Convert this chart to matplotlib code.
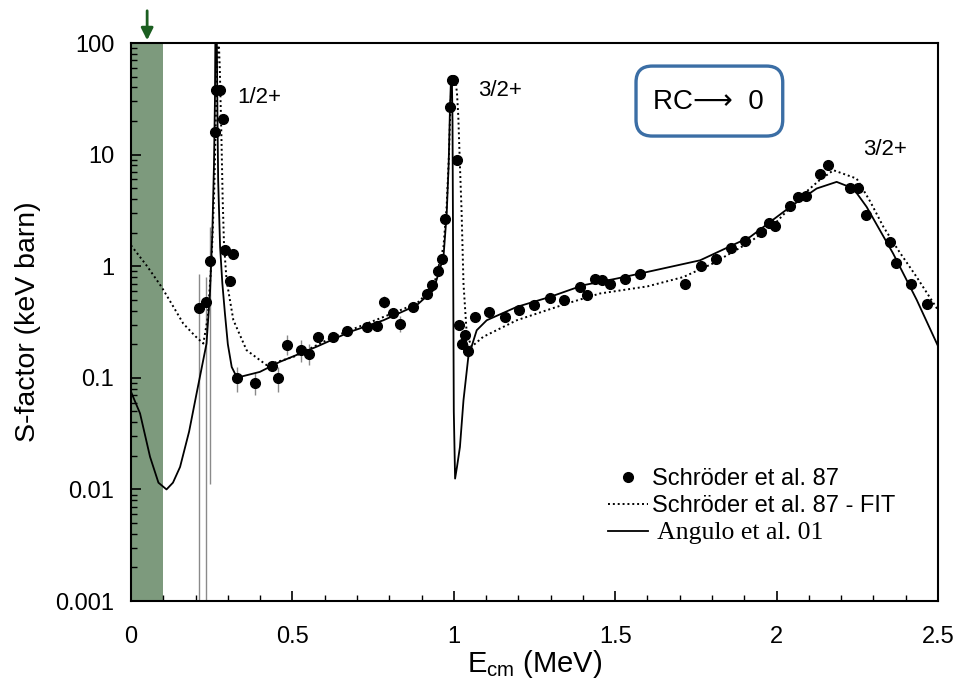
import numpy as np
import matplotlib
matplotlib.use('Agg')
import matplotlib.pyplot as plt
from matplotlib.patches import FancyBboxPatch

plt.rcParams['font.family'] = ['Liberation Sans', 'DejaVu Sans']
plt.rcParams['mathtext.fontset'] = 'custom'
plt.rcParams['mathtext.rm'] = 'Liberation Sans'
plt.rcParams['mathtext.it'] = 'Liberation Sans'

#--------------------------------------------
# Schroeder et al. 87 data points (E in MeV, S in keV barn)
data_E = [0.211, 0.232, 0.245, 0.260, 0.263, 0.276, 0.284, 0.291, 0.317, 0.307,
          0.327, 0.385, 0.436, 0.454, 0.484, 0.527, 0.551, 0.580, 0.627, 0.668,
          0.730, 0.761, 0.785, 0.811, 0.833, 0.873, 0.916, 0.933, 0.952, 0.963,
          0.973, 0.988, 0.993, 0.998, 1.011, 1.017, 1.024, 1.035, 1.043, 1.066,
          1.110, 1.159, 1.203, 1.249, 1.298, 1.341, 1.391, 1.414, 1.437, 1.458,
          1.484, 1.530, 1.577, 1.716, 1.765, 1.812, 1.859, 1.902, 1.951, 1.976,
          1.995, 2.042, 2.067, 2.090, 2.134, 2.160, 2.227, 2.253, 2.277, 2.351,
          2.369, 2.416, 2.467]
data_S = [0.42, 0.48, 1.11, 16.0, 38.0, 38.0, 21.0, 1.41, 1.28, 0.74,
          0.100, 0.089, 0.127, 0.100, 0.197, 0.177, 0.165, 0.233, 0.233, 0.262,
          0.286, 0.294, 0.48, 0.38, 0.306, 0.43, 0.56, 0.68, 0.90, 1.17,
          2.67, 26.8, 47.0, 47.0, 8.9, 0.296, 0.203, 0.241, 0.174, 0.351,
          0.385, 0.351, 0.404, 0.447, 0.514, 0.496, 0.653, 0.55, 0.776, 0.75,
          0.686, 0.776, 0.848, 0.70, 1.00, 1.16, 1.47, 1.69, 2.03, 2.46,
          2.30, 3.47, 4.13, 4.27, 6.77, 8.04, 5.07, 5.07, 2.86, 1.65,
          1.07, 0.69, 0.457]

# error bars that are visible (low, high)
err_E = [0.211, 0.232, 0.245, 0.327, 0.385, 0.454, 0.484, 0.527, 0.551, 0.785, 0.833, 1.043]
err_lo = [0.0009, 0.0009, 0.0113, 0.075, 0.070, 0.075, 0.16, 0.14, 0.13, 0.42, 0.26, 0.15]
err_hi = [0.86, 0.80, 2.25, 0.125, 0.11, 0.125, 0.24, 0.22, 0.20, 0.54, 0.36, 0.20]

# Schroeder et al. 87 - FIT (dotted)
fit_E = [0.0, 0.05, 0.095, 0.13, 0.162, 0.20, 0.224, 0.238, 0.25, 0.258, 0.264,
         0.270, 0.275, 0.280, 0.284, 0.288, 0.296, 0.317, 0.358, 0.42, 0.503,
         0.627, 0.782, 0.885, 0.937, 0.968, 0.978, 0.985, 0.990, 0.995, 1.005,
         1.010, 1.014, 1.019, 1.024, 1.030, 1.040, 1.055, 1.091, 1.195, 1.350,
         1.453, 1.600, 1.711, 1.800, 1.918, 2.000, 2.073, 2.130, 2.176, 2.248,
         2.290, 2.331, 2.380, 2.434, 2.501]
fit_S = [1.54, 1.0, 0.65, 0.44, 0.306, 0.235, 0.203, 0.35, 1.2, 5.0, 30.0,
         150.0, 60.0, 15.0, 4.0, 1.6, 0.75, 0.33, 0.177, 0.13, 0.154,
         0.233, 0.351, 0.463, 0.65, 1.49, 3.5, 10.0, 30.0, 50.0, 48.0,
         35.0, 21.8, 8.0, 3.17, 0.70, 0.25, 0.19, 0.233, 0.328, 0.463,
         0.57, 0.66, 0.80, 1.05, 1.65, 2.5, 4.17, 5.8, 7.25, 6.1,
         3.8, 2.25, 1.35, 0.80, 0.40]

# Angulo et al. 01 (solid)
ang_E = [0.0, 0.028, 0.059, 0.085, 0.11, 0.13, 0.152, 0.18, 0.203, 0.234, 0.245,
         0.252, 0.257, 0.260, 0.262, 0.265, 0.268, 0.270, 0.276, 0.283, 0.291,
         0.300, 0.312, 0.325, 0.338, 0.399, 0.461, 0.575, 0.678, 0.782, 0.885,
         0.937, 0.968, 0.978, 0.984, 0.988, 0.991, 0.994, 0.996, 0.998, 1.000,
         1.004, 1.010, 1.019, 1.030, 1.045, 1.071, 1.102, 1.195, 1.298, 1.401,
         1.505, 1.577, 1.763, 1.918, 2.042, 2.124, 2.186, 2.238, 2.279, 2.361,
         2.434, 2.501]
ang_S = [0.075, 0.048, 0.0196, 0.0115, 0.0100, 0.0115, 0.0159, 0.033, 0.072, 0.203, 0.6,
         2.0, 8.0, 30.0, 200.0, 200.0, 20.0, 5.9, 1.49, 0.70, 0.377,
         0.20, 0.125, 0.105, 0.102, 0.113, 0.139, 0.19, 0.258, 0.328, 0.447,
         0.61, 1.21, 2.96, 8.0, 25.0, 45.0, 50.0, 20.0, 1.0, 0.05,
         0.0125, 0.016, 0.024, 0.063, 0.154, 0.267, 0.328, 0.432, 0.531, 0.676,
         0.776, 0.86, 1.13, 1.83, 3.4, 4.97, 5.7, 4.97, 3.4, 1.3,
         0.50, 0.19]

x_ticks = [0, 0.5, 1, 1.5, 2, 2.5]
x_ticklabels = ['0', '0.5', '1', '1.5', '2', '2.5']
y_ticks = [0.001, 0.01, 0.1, 1, 10, 100]
y_ticklabels = ['0.001', '0.01', '0.1', '1', '10', '100']
#--------------------------------------------

fig = plt.figure(figsize=(9.59, 6.83), dpi=100)
ax = fig.add_axes([0.1366, 0.12, 0.8415, 0.817])

# shaded region
ax.axvspan(0.0, 0.1, color='#7d9a7d', zorder=0, lw=0)

# error bars
ax.vlines(err_E, err_lo, err_hi, colors='#8a8a8a', lw=1.0, zorder=1)

ax.plot(fit_E, fit_S, color='black', ls=(0, (1, 1.5)), lw=1.4, zorder=2,
        label='Schröder et al. 87 - FIT')
ax.plot(ang_E, ang_S, color='black', ls='-', lw=1.3, zorder=2,
        label=' Angulo et al. 01')
ax.plot(data_E, data_S, 'o', color='black', ms=7, zorder=3, ls='none',
        label='Schröder et al. 87')

ax.set_yscale('log')
ax.set_xlim(0, 2.5)
ax.set_ylim(0.001, 100)

ax.set_xticks(x_ticks)
ax.set_xticklabels(x_ticklabels)
ax.set_xticks(np.arange(0.1, 2.5, 0.1), minor=True)
ax.set_yticks(y_ticks)
ax.set_yticklabels(y_ticklabels)
ax.tick_params(axis='both', which='major', direction='in', length=7, width=1.2,
               labelsize=17, top=False, right=False)
ax.tick_params(axis='y', which='major', pad=12)
ax.tick_params(axis='x', which='major', pad=18)
ax.tick_params(axis='both', which='minor', direction='in', length=4.5, width=1.0,
               top=False, right=False)
for s in ax.spines.values():
    s.set_linewidth(1.5)

ax.set_xlabel(r'E$_{\mathrm{cm}}$ (MeV)', fontsize=21, labelpad=0)
ax.set_ylabel('S-factor (keV barn)', fontsize=20.5, labelpad=10)

# resonance labels
ax.text(0.328, 32.7, '1/2+', fontsize=16, ha='left', va='center')
ax.text(1.075, 37.8, '3/2+', fontsize=16, ha='left', va='center')
ax.text(2.267, 11.2, '3/2+', fontsize=16, ha='left', va='center')

# RC -> 0 box
box = FancyBboxPatch((0.6258, 0.8333), 0.1818, 0.1254, transform=ax.transAxes,
                     boxstyle='round,pad=0,rounding_size=0.02',
                     mutation_aspect=807 / 558, fc='white', ec='#3b6ea5',
                     lw=2.4, zorder=4)
ax.add_patch(box)
ax.text(0.7150, 0.895, 'RC\u27f6  0', transform=ax.transAxes, fontsize=20,
        ha='center', va='center', zorder=5)

# arrow marking the band
ax.annotate('', xy=(0.05, 100), xytext=(0.05, 206), xycoords='data',
            arrowprops=dict(arrowstyle='-|>', color='#1b5e20', lw=2,
                            mutation_scale=18), annotation_clip=False)

handles, labels = ax.get_legend_handles_labels()
order = [2, 0, 1]
leg = ax.legend([handles[i] for i in order], [labels[i] for i in order],
                loc='center left', bbox_to_anchor=(0.591, 0.17), frameon=False,
                fontsize=17, handlelength=1.7, handletextpad=0.15,
                labelspacing=0.22, borderpad=0, borderaxespad=0)
leg.get_texts()[2].set_family('Liberation Serif')
leg.get_texts()[2].set_fontsize(18.5)

fig.savefig('out.png', dpi=100)
